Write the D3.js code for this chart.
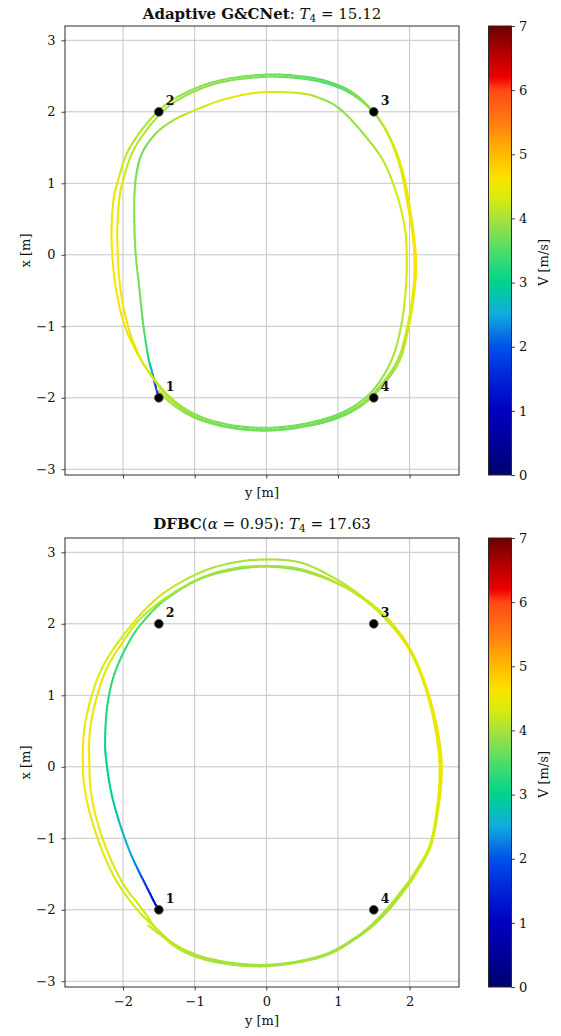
<!DOCTYPE html>
<html><head><meta charset="utf-8">
<script src="https://cdn.jsdelivr.net/npm/d3@7"></script>
<style>
body{margin:0;background:#fff}
svg{display:block}
text{font-family:"DejaVu Serif","Liberation Serif",serif;fill:#111}
</style>
</head><body>
<svg id="chart" width="561" height="1036"></svg>
<script>
// ---------- data ----------
const xTicks = [-2, -1, 0, 1, 2];
const yTicks = [-3, -2, -1, 0, 1, 2, 3];
const cbTicks = [0, 1, 2, 3, 4, 5, 6, 7];
const wpY = [-1.5, -1.5, 1.5, 1.5];
const wpX = [-2, 2, 2, -2];
const wpLabel = ["1", "2", "3", "4"];

// colormap stops (V m/s -> colour)
const cmapV = [0, 0.5, 1, 1.5, 2, 2.5, 3, 3.5, 3.8, 4, 4.3, 4.6, 5, 5.5, 6, 6.2, 6.6, 7];
const cmapC = ["#00006e","#00009a","#0000c0","#0022d8","#0052e8","#12aadf","#00d48c","#4edc68","#86df50","#a6e23a","#d6ea0e","#fae400","#ffbb00","#ff7c10","#ff4818","#ee0000","#b00000","#6a0000"];

// Panel 1: Adaptive G&CNet trajectory (y [m], x [m], V [m/s])
const topY = [-1.50,-1.55,-1.60,-1.65,-1.72,-1.77,-1.82,-1.84,-1.84,-1.80,-1.72,-1.54,-1.30,-1.00,-0.60,-0.10,0.47,0.80,1.05,1.35,1.63,1.82,1.93,1.96,1.95,1.89,1.77,1.55,1.28,0.95,0.50,0.00,-0.50,-0.95,-1.30,
  -1.58,-1.80,-1.99,-2.11,-2.16,-2.14,-2.08,-1.91,-1.52,-1.10,-0.60,0.00,0.45,0.80,1.10,1.32,1.52,1.68,1.80,1.90,1.97,2.04,2.07,2.05,1.97,1.83,1.55,1.28,0.95,0.50,0.00,-0.50,-0.95,-1.30,
  -1.56,-1.77,-1.93,-2.04,-2.08,-2.06,-2.01,-1.84,-1.47,-1.08,-0.60,0.00,0.45,0.80,1.10,1.33,1.54,1.70,1.83,1.93,2.00,2.06,2.09,2.07,1.99,1.86,1.60,1.30,0.95,0.50,0.00,-0.50,-0.95,-1.30,-1.52];
const topX = [-2.00,-1.82,-1.62,-1.42,-0.96,-0.49,-0.03,0.35,0.86,1.20,1.45,1.70,1.88,2.02,2.17,2.27,2.26,2.17,2.02,1.70,1.32,0.85,0.40,0.02,-0.45,-0.95,-1.42,-1.82,-2.08,-2.25,-2.37,-2.42,-2.38,-2.25,-2.03,
  -1.72,-1.38,-0.95,-0.40,0.20,0.70,1.00,1.49,2.00,2.28,2.45,2.52,2.50,2.44,2.33,2.18,1.97,1.72,1.44,1.10,0.72,0.30,-0.10,-0.50,-1.00,-1.48,-1.88,-2.12,-2.28,-2.40,-2.45,-2.41,-2.28,-2.06,
  -1.76,-1.42,-1.00,-0.45,0.20,0.70,1.00,1.49,1.98,2.25,2.42,2.49,2.47,2.41,2.30,2.15,1.94,1.69,1.40,1.06,0.68,0.28,-0.10,-0.50,-1.00,-1.48,-1.86,-2.13,-2.30,-2.41,-2.46,-2.42,-2.30,-2.10,-1.88];
const topV = [1.0,1.8,2.6,3.2,3.6,3.7,3.8,3.8,3.8,3.7,3.7,3.8,4.0,4.2,4.4,4.4,4.2,3.9,3.8,3.9,4.1,4.3,4.4,4.4,4.3,4.1,4.0,3.9,3.8,3.7,3.7,3.7,3.7,3.8,4.0,
  4.2,4.4,4.5,4.6,4.6,4.5,4.4,4.1,4.0,3.9,3.8,3.7,3.6,3.5,3.6,3.8,4.0,4.2,4.3,4.4,4.5,4.6,4.6,4.5,4.3,4.0,3.9,3.8,3.7,3.7,3.7,3.7,3.8,4.0,
  4.2,4.4,4.5,4.6,4.6,4.5,4.4,4.1,4.0,3.9,3.8,3.7,3.6,3.5,3.6,3.8,4.0,4.2,4.3,4.4,4.5,4.6,4.6,4.5,4.3,4.0,3.9,3.8,3.7,3.7,3.7,3.7,3.8,4.0,4.1];

// Panel 2: DFBC trajectory (y [m], x [m], V [m/s])
const botY = [-1.50,-1.56,-1.62,-1.70,-1.80,-1.92,-2.05,-2.16,-2.23,-2.25,-2.22,-2.12,-1.92,-1.72,-1.42,-0.96,-0.49,0.00,0.50,1.00,1.35,1.68,2.00,2.23,2.37,2.42,2.38,2.28,2.09,1.90,1.60,1.27,0.77,0.00,-0.72,-1.22,-1.55,-1.80,
  -2.06,-2.26,-2.42,-2.52,-2.56,-2.53,-2.33,-1.98,-1.51,-0.96,-0.49,0.00,0.50,1.00,1.35,1.70,2.02,2.25,2.40,2.45,2.40,2.30,2.11,1.92,1.62,1.27,0.77,0.00,-0.72,-1.22,-1.52,-1.74,
  -1.99,-2.19,-2.35,-2.44,-2.47,-2.45,-2.26,-1.98,-1.75,-1.42,-0.96,-0.49,0.00,0.50,1.00,1.35,1.69,2.01,2.24,2.39,2.44,2.39,2.29,2.10,1.91,1.61,1.27,0.77,0.00,-0.72,-1.22,-1.65];
const botX = [-2.00,-1.90,-1.78,-1.62,-1.42,-1.15,-0.78,-0.38,0.05,0.37,0.85,1.30,1.74,2.03,2.33,2.61,2.75,2.80,2.74,2.56,2.35,2.05,1.63,1.07,0.47,-0.05,-0.60,-1.10,-1.45,-1.72,-2.08,-2.37,-2.64,-2.78,-2.72,-2.52,-2.25,-2.00,
  -1.65,-1.25,-0.80,-0.40,0.00,0.60,1.30,1.86,2.37,2.70,2.85,2.90,2.85,2.61,2.37,2.07,1.63,1.07,0.47,-0.05,-0.60,-1.10,-1.46,-1.74,-2.10,-2.39,-2.66,-2.79,-2.73,-2.55,-2.28,-1.98,
  -1.65,-1.25,-0.80,-0.40,0.00,0.60,1.30,1.78,2.08,2.35,2.62,2.77,2.81,2.76,2.57,2.35,2.06,1.62,1.07,0.47,-0.05,-0.60,-1.10,-1.45,-1.73,-2.09,-2.38,-2.65,-2.77,-2.70,-2.52,-2.22];
const botV = [0.9,1.2,1.5,1.8,2.2,2.5,2.7,2.9,3.0,3.1,3.2,3.3,3.4,3.5,3.6,3.7,3.8,3.8,3.9,4.0,4.1,4.2,4.3,4.4,4.5,4.5,4.4,4.3,4.2,4.1,4.0,4.0,4.0,4.0,4.0,4.1,4.2,4.3,
  4.3,4.4,4.5,4.6,4.6,4.5,4.4,4.3,4.2,4.1,4.0,4.0,4.0,4.1,4.2,4.3,4.4,4.5,4.5,4.5,4.4,4.3,4.2,4.1,4.0,4.0,4.0,4.0,4.0,4.1,4.2,4.3,
  4.3,4.4,4.5,4.6,4.6,4.5,4.4,4.3,4.2,4.1,4.0,4.0,4.0,4.0,4.1,4.2,4.3,4.4,4.5,4.5,4.5,4.4,4.3,4.2,4.1,4.0,4.0,4.0,4.0,4.0,4.1,4.2];

// ---------- layout ----------
const svg = d3.select("#chart");
const color = d3.scaleLinear().domain(cmapV).range(cmapC).interpolate(d3.interpolateRgb).clamp(true);
const fmtTick = d => d < 0 ? "\u2212" + Math.abs(d) : String(d);

const panels = [
  {top: 26, bottom: 475, ys: topY, xs: topX, vs: topV, showXLabels: false, xlabY: 497,
   title: [{t:"Adaptive G&CNet", w:"bold"}, {t:": "}, {t:"T", s:"italic"}, {t:"4", sub:true}, {t:" = 15.12"}], titleY: 18.5},
  {top: 538, bottom: 987, ys: botY, xs: botX, vs: botV, showXLabels: true, xlabY: 1025,
   title: [{t:"DFBC", w:"bold"}, {t:"("}, {t:"α", s:"italic"}, {t:" = 0.95): "}, {t:"T", s:"italic"}, {t:"4", sub:true}, {t:" = 17.63"}], titleY: 529}
];
const L = 65, R = 459;
const cbL = 488.5, cbR = 511.5;
const FS = 13;

const defs = svg.append("defs");
const grad = defs.append("linearGradient").attr("id","cbgrad").attr("x1",0).attr("y1",1).attr("x2",0).attr("y2",0);
d3.range(0, 7.0001, 0.05).forEach(v => grad.append("stop").attr("offset", v/7).attr("stop-color", color(v)));

panels.forEach((p, pi) => {
  const xs = d3.scaleLinear().domain([-2.81, 2.69]).range([L, R]);
  const ys = d3.scaleLinear().domain([-3.08, 3.2]).range([p.bottom, p.top]);
  const g = svg.append("g");

  defs.append("clipPath").attr("id","clip"+pi).append("rect")
    .attr("x", L).attr("y", p.top).attr("width", R-L).attr("height", p.bottom-p.top);

  // grid
  g.selectAll(".gx").data(xTicks).join("line")
    .attr("x1", d=>xs(d)).attr("x2", d=>xs(d)).attr("y1", p.top).attr("y2", p.bottom)
    .attr("stroke", "#c6c6c6").attr("stroke-width", 1);
  g.selectAll(".gy").data(yTicks).join("line")
    .attr("y1", d=>ys(d)).attr("y2", d=>ys(d)).attr("x1", L).attr("x2", R)
    .attr("stroke", "#c6c6c6").attr("stroke-width", 1);

  // trajectory: Catmull-Rom segments coloured by speed
  const pts = p.ys.map((y,i) => [xs(y), ys(p.xs[i]), p.vs[i]]);
  const tg = g.append("g").attr("clip-path", `url(#clip${pi})`);
  const n = pts.length;
  const segs = [];
  for (let i = 0; i < n-1; i++) {
    const P0 = pts[Math.max(0,i-1)], P1 = pts[i], P2 = pts[i+1], P3 = pts[Math.min(n-1,i+2)];
    const c1 = [P1[0] + (P2[0]-P0[0])/6, P1[1] + (P2[1]-P0[1])/6];
    const c2 = [P2[0] - (P3[0]-P1[0])/6, P2[1] - (P3[1]-P1[1])/6];
    const bez = t => {
      const u = 1-t;
      return [u*u*u*P1[0] + 3*u*u*t*c1[0] + 3*u*t*t*c2[0] + t*t*t*P2[0],
              u*u*u*P1[1] + 3*u*u*t*c1[1] + 3*u*t*t*c2[1] + t*t*t*P2[1]];
    };
    const N = 8;
    for (let k = 0; k < N; k++) {
      const a = bez(k/N), b = bez((k+1)/N);
      const v = P1[2] + (P2[2]-P1[2])*((k+0.5)/N);
      segs.push({a, b, v});
    }
  }
  tg.selectAll("line").data(segs).join("line")
    .attr("x1", d=>d.a[0]).attr("y1", d=>d.a[1]).attr("x2", d=>d.b[0]).attr("y2", d=>d.b[1])
    .attr("stroke", d=>color(d.v)).attr("stroke-width", 2).attr("stroke-linecap", "round");

  // waypoints
  g.selectAll(".wp").data(wpY).join("circle")
    .attr("cx", d=>xs(d)).attr("cy", (d,i)=>ys(wpX[i])).attr("r", 4.4)
    .attr("fill", "#000").attr("stroke", "#555").attr("stroke-width", 0.8);
  g.selectAll(".wpl").data(wpY).join("text")
    .attr("x", d=>xs(d)+7).attr("y", (d,i)=>ys(wpX[i])-6.5)
    .attr("font-size", 12.5).attr("font-weight", "bold").text((d,i)=>wpLabel[i]);

  // spines
  g.append("rect").attr("x", L).attr("y", p.top).attr("width", R-L).attr("height", p.bottom-p.top)
    .attr("fill", "none").attr("stroke", "#2a2a2a").attr("stroke-width", 1);

  // axes
  const ax = g.append("g").attr("transform", `translate(0,${p.bottom})`)
    .call(d3.axisBottom(xs).tickValues(xTicks).tickSize(3.5).tickPadding(6)
      .tickFormat(p.showXLabels ? fmtTick : ""));
  const ay = g.append("g").attr("transform", `translate(${L},0)`)
    .call(d3.axisLeft(ys).tickValues(yTicks).tickSize(3.5).tickPadding(6).tickFormat(fmtTick));
  [ax, ay].forEach(a => {
    a.select(".domain").remove();
    a.selectAll(".tick line").attr("stroke", "#2a2a2a").attr("stroke-width", 0.9);
    a.selectAll(".tick text").attr("font-size", FS).attr("font-family", "DejaVu Serif").attr("fill", "#111");
  });

  // axis labels
  g.append("text").attr("x", (L+R)/2).attr("y", p.xlabY).attr("text-anchor", "middle")
    .attr("font-size", FS).text("y [m]");
  g.append("text").attr("transform", `translate(30,${(p.top+p.bottom)/2}) rotate(-90)`)
    .attr("text-anchor", "middle").attr("font-size", FS).text("x [m]");

  // title
  const tt = g.append("text").attr("x", (L+R)/2).attr("y", p.titleY).attr("text-anchor", "middle").attr("font-size", 15);
  let prevSub = false;
  p.title.forEach(part => {
    const ts = tt.append("tspan").text(part.t);
    if (part.w) ts.attr("font-weight", part.w);
    if (part.s) ts.attr("font-style", part.s);
    if (part.sub) ts.attr("font-size", 10.5).attr("dy", 3);
    else if (prevSub) ts.attr("dy", -3);
    prevSub = !!part.sub;
  });

  // colorbar
  const cs = d3.scaleLinear().domain([0, 7]).range([p.bottom, p.top]);
  g.append("rect").attr("x", cbL).attr("y", p.top).attr("width", cbR-cbL).attr("height", p.bottom-p.top)
    .attr("fill", "url(#cbgrad)").attr("stroke", "#2a2a2a").attr("stroke-width", 1);
  const ac = g.append("g").attr("transform", `translate(${cbR},0)`)
    .call(d3.axisRight(cs).tickValues(cbTicks).tickSize(3.5).tickPadding(4).tickFormat(d3.format("d")));
  ac.select(".domain").remove();
  ac.selectAll(".tick line").attr("stroke", "#2a2a2a").attr("stroke-width", 0.9);
  ac.selectAll(".tick text").attr("font-size", FS).attr("font-family", "DejaVu Serif").attr("fill", "#111");
  g.append("text").attr("transform", `translate(548,${(p.top+p.bottom)/2 + 12}) rotate(-90)`)
    .attr("text-anchor", "middle").attr("font-size", FS).text("V [m/s]");
});
</script>
</body></html>
